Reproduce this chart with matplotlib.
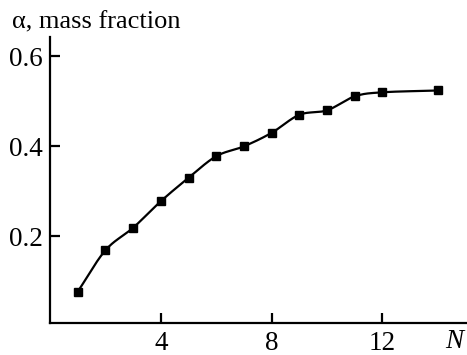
import numpy as np
import matplotlib
matplotlib.use("Agg")
import matplotlib.pyplot as plt

N = [1, 2, 3, 4, 5, 6, 7, 8, 9, 10, 11, 12, 14]
alpha = [0.077, 0.169, 0.219, 0.278, 0.330, 0.378, 0.400, 0.430, 0.470, 0.480, 0.511, 0.520, 0.524]
xticks = [4, 8, 12]
yticks = [0.2, 0.4, 0.6]

plt.rcParams['font.family'] = ['Liberation Serif', 'DejaVu Serif']

def catmull(x, y, n=30):
    x = np.asarray(x, float); y = np.asarray(y, float)
    px = np.concatenate([[2*x[0]-x[1]], x, [2*x[-1]-x[-2]]])
    py = np.concatenate([[2*y[0]-y[1]], y, [2*y[-1]-y[-2]]])
    ox, oy = [], []
    for k in range(1, len(px) - 2):
        t = np.linspace(0, 1, n, endpoint=False)
        for arr, out in ((px, ox), (py, oy)):
            p0, p1, p2, p3 = arr[k-1], arr[k], arr[k+1], arr[k+2]
            out.append(0.5*((2*p1) + (-p0 + p2)*t + (2*p0 - 5*p1 + 4*p2 - p3)*t**2
                            + (-p0 + 3*p1 - 3*p2 + p3)*t**3))
    ox.append([x[-1]]); oy.append([y[-1]])
    return np.concatenate(ox), np.concatenate(oy)

fig = plt.figure(figsize=(4.67, 3.55), dpi=100)
ax = fig.add_axes([0.107, 0.090, 0.893, 0.806])

cx, cy = catmull(N, alpha)
ax.plot(cx, cy, color='black', lw=1.6)
ax.plot(N, alpha, linestyle='none', marker='s', ms=6.2, color='black')

ax.set_xlim(0, 15.05)
ax.set_ylim(0.0075, 0.643)
ax.set_xticks(xticks)
ax.set_xticklabels([str(t) for t in xticks])
ax.set_yticks(yticks)
ax.set_yticklabels([f"{t:.1f}" for t in yticks])

for s in ['top', 'right']:
    ax.spines[s].set_visible(False)
for s in ['left', 'bottom']:
    ax.spines[s].set_linewidth(1.6)

ax.tick_params(direction='in', length=7, width=1.6, labelsize=19.5, pad=5)
ax.tick_params(axis='x', pad=5.5)

fig.text(12/467, 1 - 28/355, 'α, mass fraction', fontsize=19, ha='left', va='baseline')
fig.text(454/467, 1 - 348/355, 'N', fontsize=19.5, style='italic', ha='center', va='baseline')

fig.savefig('out.png', dpi=100)
